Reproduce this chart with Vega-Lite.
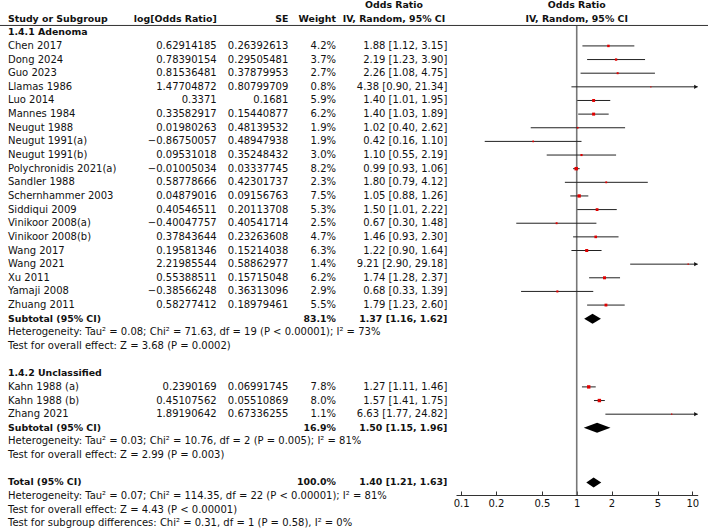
{
  "$schema": "https://vega.github.io/schema/vega-lite/v6.json",
  "width": 708,
  "height": 531,
  "autosize": {"type": "none"},
  "padding": 0,
  "background": "white",
  "config": {
    "view": {"stroke": null},
    "font": "DejaVu Sans",
    "text": {"font": "DejaVu Sans", "fontSize": 10, "color": "#111", "baseline": "middle"}
  },
  "datasets": {
    "headers": [
      {"row": 1, "col": "study", "text": "Study or Subgroup"},
      {"row": 1, "col": "logor", "text": "log[Odds Ratio]"},
      {"row": 1, "col": "se", "text": "SE"},
      {"row": 1, "col": "weight", "text": "Weight"},
      {"row": 0, "col": "ci", "text": "Odds Ratio"},
      {"row": 1, "col": "ci", "text": "IV, Random, 95% CI"},
      {"row": 0, "col": "plot", "text": "Odds Ratio"},
      {"row": 1, "col": "plot", "text": "IV, Random, 95% CI"}
    ],
    "groups": [
      {"row": 2, "text": "1.4.1 Adenoma"},
      {"row": 27, "text": "1.4.2 Unclassified"}
    ],
    "studies": [
      {"row": 3, "study": "Chen 2017", "logor": 0.62914185, "se": 0.26392613, "weight": 0.042, "or": 1.88, "lo": 1.12, "hi": 3.15, "ci": "1.88 [1.12, 3.15]"},
      {"row": 4, "study": "Dong 2024", "logor": 0.78390154, "se": 0.29505481, "weight": 0.037, "or": 2.19, "lo": 1.23, "hi": 3.90, "ci": "2.19 [1.23, 3.90]"},
      {"row": 5, "study": "Guo 2023", "logor": 0.81536481, "se": 0.37879953, "weight": 0.027, "or": 2.26, "lo": 1.08, "hi": 4.75, "ci": "2.26 [1.08, 4.75]"},
      {"row": 6, "study": "Llamas 1986", "logor": 1.47704872, "se": 0.80799709, "weight": 0.008, "or": 4.38, "lo": 0.90, "hi": 21.34, "ci": "4.38 [0.90, 21.34]"},
      {"row": 7, "study": "Luo 2014", "logor": 0.3371, "se": 0.1681, "weight": 0.059, "or": 1.40, "lo": 1.01, "hi": 1.95, "ci": "1.40 [1.01, 1.95]"},
      {"row": 8, "study": "Mannes 1984", "logor": 0.33582917, "se": 0.15440877, "weight": 0.062, "or": 1.40, "lo": 1.03, "hi": 1.89, "ci": "1.40 [1.03, 1.89]"},
      {"row": 9, "study": "Neugut 1988", "logor": 0.01980263, "se": 0.48139532, "weight": 0.019, "or": 1.02, "lo": 0.40, "hi": 2.62, "ci": "1.02 [0.40, 2.62]"},
      {"row": 10, "study": "Neugut 1991(a)", "logor": -0.86750057, "se": 0.48947938, "weight": 0.019, "or": 0.42, "lo": 0.16, "hi": 1.10, "ci": "0.42 [0.16, 1.10]"},
      {"row": 11, "study": "Neugut 1991(b)", "logor": 0.09531018, "se": 0.35248432, "weight": 0.030, "or": 1.10, "lo": 0.55, "hi": 2.19, "ci": "1.10 [0.55, 2.19]"},
      {"row": 12, "study": "Polychronidis 2021(a)", "logor": -0.01005034, "se": 0.03337745, "weight": 0.082, "or": 0.99, "lo": 0.93, "hi": 1.06, "ci": "0.99 [0.93, 1.06]"},
      {"row": 13, "study": "Sandler 1988", "logor": 0.58778666, "se": 0.42301737, "weight": 0.023, "or": 1.80, "lo": 0.79, "hi": 4.12, "ci": "1.80 [0.79, 4.12]"},
      {"row": 14, "study": "Schernhammer 2003", "logor": 0.04879016, "se": 0.09156763, "weight": 0.075, "or": 1.05, "lo": 0.88, "hi": 1.26, "ci": "1.05 [0.88, 1.26]"},
      {"row": 15, "study": "Siddiqui 2009", "logor": 0.40546511, "se": 0.20113708, "weight": 0.053, "or": 1.50, "lo": 1.01, "hi": 2.22, "ci": "1.50 [1.01, 2.22]"},
      {"row": 16, "study": "Vinikoor 2008(a)", "logor": -0.40047757, "se": 0.40541714, "weight": 0.025, "or": 0.67, "lo": 0.30, "hi": 1.48, "ci": "0.67 [0.30, 1.48]"},
      {"row": 17, "study": "Vinikoor 2008(b)", "logor": 0.37843644, "se": 0.23263608, "weight": 0.047, "or": 1.46, "lo": 0.93, "hi": 2.30, "ci": "1.46 [0.93, 2.30]"},
      {"row": 18, "study": "Wang 2017", "logor": 0.19581346, "se": 0.15214038, "weight": 0.063, "or": 1.22, "lo": 0.90, "hi": 1.64, "ci": "1.22 [0.90, 1.64]"},
      {"row": 19, "study": "Wang 2021", "logor": 2.21985544, "se": 0.58862977, "weight": 0.014, "or": 9.21, "lo": 2.90, "hi": 29.18, "ci": "9.21 [2.90, 29.18]"},
      {"row": 20, "study": "Xu 2011", "logor": 0.55388511, "se": 0.15715048, "weight": 0.062, "or": 1.74, "lo": 1.28, "hi": 2.37, "ci": "1.74 [1.28, 2.37]"},
      {"row": 21, "study": "Yamaji 2008", "logor": -0.38566248, "se": 0.36313096, "weight": 0.029, "or": 0.68, "lo": 0.33, "hi": 1.39, "ci": "0.68 [0.33, 1.39]"},
      {"row": 22, "study": "Zhuang 2011", "logor": 0.58277412, "se": 0.18979461, "weight": 0.055, "or": 1.79, "lo": 1.23, "hi": 2.60, "ci": "1.79 [1.23, 2.60]"},
      {"row": 28, "study": "Kahn 1988 (a)", "logor": 0.2390169, "se": 0.06991745, "weight": 0.078, "or": 1.27, "lo": 1.11, "hi": 1.46, "ci": "1.27 [1.11, 1.46]"},
      {"row": 29, "study": "Kahn 1988 (b)", "logor": 0.45107562, "se": 0.05510869, "weight": 0.080, "or": 1.57, "lo": 1.41, "hi": 1.75, "ci": "1.57 [1.41, 1.75]"},
      {"row": 30, "study": "Zhang 2021", "logor": 1.89190642, "se": 0.67336255, "weight": 0.011, "or": 6.63, "lo": 1.77, "hi": 24.82, "ci": "6.63 [1.77, 24.82]"}
    ],
    "summaries": [
      {"row": 23, "label": "Subtotal (95% CI)", "group": "1.4.1 Adenoma", "weight": 0.831, "or": 1.37, "lo": 1.16, "hi": 1.62, "ci": "1.37 [1.16, 1.62]"},
      {"row": 31, "label": "Subtotal (95% CI)", "group": "1.4.2 Unclassified", "weight": 0.169, "or": 1.50, "lo": 1.15, "hi": 1.96, "ci": "1.50 [1.15, 1.96]"},
      {"row": 35, "label": "Total (95% CI)", "group": "Total", "weight": 1.0, "or": 1.40, "lo": 1.21, "hi": 1.63, "ci": "1.40 [1.21, 1.63]"}
    ],
    "notes": [
      {"row": 24, "text": "Heterogeneity: Tau² = 0.08; Chi² = 71.63, df = 19 (P < 0.00001); I² = 73%"},
      {"row": 25, "text": "Test for overall effect: Z = 3.68 (P = 0.0002)"},
      {"row": 32, "text": "Heterogeneity: Tau² = 0.03; Chi² = 10.76, df = 2 (P = 0.005); I² = 81%"},
      {"row": 33, "text": "Test for overall effect: Z = 2.99 (P = 0.003)"},
      {"row": 36, "text": "Heterogeneity: Tau² = 0.07; Chi² = 114.35, df = 22 (P < 0.00001); I² = 81%"},
      {"row": 37, "text": "Test for overall effect: Z = 4.43 (P < 0.00001)"},
      {"row": 38, "text": "Test for subgroup differences: Chi² = 0.31, df = 1 (P = 0.58), I² = 0%"}
    ]
  },
  "resolve": {"scale": {"x": "independent"}},
  "layer": [
    {
      "layer": [
        {
          "data": {"name": "headers"},
          "transform": [{"filter": "datum.col == 'study'"}],
          "mark": {"type": "text", "align": "left", "fontWeight": "bold", "fontSize": 9.4},
          "encoding": {
            "x": {"datum": 8, "type": "quantitative", "scale": {"domain": [0, 708], "range": [0, 708], "nice": false, "zero": false}, "axis": null},
            "y": {"field": "row", "type": "quantitative", "scale": {"domain": [0, 38], "range": [5, 523.3], "nice": false, "zero": false}, "axis": null},
            "text": {"field": "text"}
          }
        },
        {
          "data": {"name": "headers"},
          "transform": [{"filter": "datum.col == 'logor'"}],
          "mark": {"type": "text", "align": "right", "fontWeight": "bold", "fontSize": 9.4},
          "encoding": {
            "x": {"datum": 216.7, "type": "quantitative", "scale": {"domain": [0, 708], "range": [0, 708], "nice": false, "zero": false}, "axis": null},
            "y": {"field": "row", "type": "quantitative", "scale": {"domain": [0, 38], "range": [5, 523.3], "nice": false, "zero": false}, "axis": null},
            "text": {"field": "text"}
          }
        },
        {
          "data": {"name": "headers"},
          "transform": [{"filter": "datum.col == 'se'"}],
          "mark": {"type": "text", "align": "right", "fontWeight": "bold", "fontSize": 9.4},
          "encoding": {
            "x": {"datum": 288.3, "type": "quantitative", "scale": {"domain": [0, 708], "range": [0, 708], "nice": false, "zero": false}, "axis": null},
            "y": {"field": "row", "type": "quantitative", "scale": {"domain": [0, 38], "range": [5, 523.3], "nice": false, "zero": false}, "axis": null},
            "text": {"field": "text"}
          }
        },
        {
          "data": {"name": "headers"},
          "transform": [{"filter": "datum.col == 'weight'"}],
          "mark": {"type": "text", "align": "right", "fontWeight": "bold", "fontSize": 9.4},
          "encoding": {
            "x": {"datum": 336, "type": "quantitative", "scale": {"domain": [0, 708], "range": [0, 708], "nice": false, "zero": false}, "axis": null},
            "y": {"field": "row", "type": "quantitative", "scale": {"domain": [0, 38], "range": [5, 523.3], "nice": false, "zero": false}, "axis": null},
            "text": {"field": "text"}
          }
        },
        {
          "data": {"name": "headers"},
          "transform": [{"filter": "datum.col == 'ci'"}],
          "mark": {"type": "text", "align": "center", "fontWeight": "bold", "fontSize": 9.4},
          "encoding": {
            "x": {"datum": 394, "type": "quantitative", "scale": {"domain": [0, 708], "range": [0, 708], "nice": false, "zero": false}, "axis": null},
            "y": {"field": "row", "type": "quantitative", "scale": {"domain": [0, 38], "range": [5, 523.3], "nice": false, "zero": false}, "axis": null},
            "text": {"field": "text"}
          }
        },
        {
          "data": {"name": "groups"},
          "mark": {"type": "text", "align": "left", "fontWeight": "bold", "fontSize": 9.4},
          "encoding": {
            "x": {"datum": 8, "type": "quantitative", "scale": {"domain": [0, 708], "range": [0, 708], "nice": false, "zero": false}, "axis": null},
            "y": {"field": "row", "type": "quantitative", "scale": {"domain": [0, 38], "range": [5, 523.3], "nice": false, "zero": false}, "axis": null},
            "text": {"field": "text"}
          }
        },
        {
          "data": {"name": "studies"},
          "mark": {"type": "text", "align": "left"},
          "encoding": {
            "x": {"datum": 8, "type": "quantitative", "scale": {"domain": [0, 708], "range": [0, 708], "nice": false, "zero": false}, "axis": null},
            "y": {"field": "row", "type": "quantitative", "scale": {"domain": [0, 38], "range": [5, 523.3], "nice": false, "zero": false}, "axis": null},
            "text": {"field": "study"}
          }
        },
        {
          "data": {"name": "studies"},
          "mark": {"type": "text", "align": "right"},
          "encoding": {
            "x": {"datum": 216.7, "type": "quantitative", "scale": {"domain": [0, 708], "range": [0, 708], "nice": false, "zero": false}, "axis": null},
            "y": {"field": "row", "type": "quantitative", "scale": {"domain": [0, 38], "range": [5, 523.3], "nice": false, "zero": false}, "axis": null},
            "text": {"field": "logor", "type": "quantitative"}
          }
        },
        {
          "data": {"name": "studies"},
          "mark": {"type": "text", "align": "right"},
          "encoding": {
            "x": {"datum": 288.3, "type": "quantitative", "scale": {"domain": [0, 708], "range": [0, 708], "nice": false, "zero": false}, "axis": null},
            "y": {"field": "row", "type": "quantitative", "scale": {"domain": [0, 38], "range": [5, 523.3], "nice": false, "zero": false}, "axis": null},
            "text": {"field": "se", "type": "quantitative"}
          }
        },
        {
          "data": {"name": "studies"},
          "mark": {"type": "text", "align": "right"},
          "encoding": {
            "x": {"datum": 336, "type": "quantitative", "scale": {"domain": [0, 708], "range": [0, 708], "nice": false, "zero": false}, "axis": null},
            "y": {"field": "row", "type": "quantitative", "scale": {"domain": [0, 38], "range": [5, 523.3], "nice": false, "zero": false}, "axis": null},
            "text": {"field": "weight", "type": "quantitative", "format": ".1%"}
          }
        },
        {
          "data": {"name": "studies"},
          "mark": {"type": "text", "align": "right"},
          "encoding": {
            "x": {"datum": 447.3, "type": "quantitative", "scale": {"domain": [0, 708], "range": [0, 708], "nice": false, "zero": false}, "axis": null},
            "y": {"field": "row", "type": "quantitative", "scale": {"domain": [0, 38], "range": [5, 523.3], "nice": false, "zero": false}, "axis": null},
            "text": {"field": "ci"}
          }
        },
        {
          "data": {"name": "summaries"},
          "mark": {"type": "text", "align": "left", "fontWeight": "bold", "fontSize": 9.4},
          "encoding": {
            "x": {"datum": 8, "type": "quantitative", "scale": {"domain": [0, 708], "range": [0, 708], "nice": false, "zero": false}, "axis": null},
            "y": {"field": "row", "type": "quantitative", "scale": {"domain": [0, 38], "range": [5, 523.3], "nice": false, "zero": false}, "axis": null},
            "text": {"field": "label"}
          }
        },
        {
          "data": {"name": "summaries"},
          "mark": {"type": "text", "align": "right", "fontWeight": "bold", "fontSize": 9.4},
          "encoding": {
            "x": {"datum": 336, "type": "quantitative", "scale": {"domain": [0, 708], "range": [0, 708], "nice": false, "zero": false}, "axis": null},
            "y": {"field": "row", "type": "quantitative", "scale": {"domain": [0, 38], "range": [5, 523.3], "nice": false, "zero": false}, "axis": null},
            "text": {"field": "weight", "type": "quantitative", "format": ".1%"}
          }
        },
        {
          "data": {"name": "summaries"},
          "mark": {"type": "text", "align": "right", "fontWeight": "bold", "fontSize": 9.4},
          "encoding": {
            "x": {"datum": 447.3, "type": "quantitative", "scale": {"domain": [0, 708], "range": [0, 708], "nice": false, "zero": false}, "axis": null},
            "y": {"field": "row", "type": "quantitative", "scale": {"domain": [0, 38], "range": [5, 523.3], "nice": false, "zero": false}, "axis": null},
            "text": {"field": "ci"}
          }
        },
        {
          "data": {"name": "notes"},
          "mark": {"type": "text", "align": "left"},
          "encoding": {
            "x": {"datum": 8, "type": "quantitative", "scale": {"domain": [0, 708], "range": [0, 708], "nice": false, "zero": false}, "axis": null},
            "y": {"field": "row", "type": "quantitative", "scale": {"domain": [0, 38], "range": [5, 523.3], "nice": false, "zero": false}, "axis": null},
            "text": {"field": "text"}
          }
        }
      ]
    },
    {
      "layer": [
        {
          "data": {"values": [{}]},
          "mark": {"type": "rule", "color": "#777", "strokeWidth": 1.6},
          "encoding": {
            "x": {"datum": 1, "type": "quantitative", "scale": {"type": "log", "domain": [0.0903, 11.13], "range": [456, 697.7], "nice": false, "clamp": true},
              "axis": {"orient": "bottom", "offset": -36, "values": [0.1, 0.2, 0.5, 1, 2, 5, 10], "format": "~g", "title": null, "grid": false,
                "domainColor": "#333", "domainWidth": 1, "tickColor": "#333", "tickWidth": 1, "tickSize": -4, "labelPadding": 7,
                "labelFont": "DejaVu Sans", "labelFontSize": 10, "labelColor": "#111", "labelFlush": false, "labelOverlap": false, "labelBound": false}},
            "y": {"datum": 1.5, "type": "quantitative", "scale": {"domain": [0, 38], "range": [5, 523.3], "nice": false, "zero": false}, "axis": null},
            "y2": {"datum": 35.93}
          }
        },
        {
          "data": {"values": [{}]},
          "mark": {"type": "rule", "color": "#333", "strokeWidth": 1},
          "encoding": {
            "y": {"datum": 1.5, "type": "quantitative", "scale": {"domain": [0, 38], "range": [5, 523.3], "nice": false, "zero": false}, "axis": null}
          }
        },
        {
          "data": {"name": "headers"},
          "transform": [{"filter": "datum.col == 'plot'"}],
          "mark": {"type": "text", "align": "center", "fontWeight": "bold", "fontSize": 9.4},
          "encoding": {
            "x": {"datum": 1, "type": "quantitative"},
            "y": {"field": "row", "type": "quantitative", "scale": {"domain": [0, 38], "range": [5, 523.3], "nice": false, "zero": false}, "axis": null},
            "text": {"field": "text"}
          }
        },
        {
          "data": {"name": "studies"},
          "mark": {"type": "rule", "color": "#222", "strokeWidth": 1},
          "encoding": {
            "x": {"field": "lo", "type": "quantitative"},
            "x2": {"field": "hi"},
            "y": {"field": "row", "type": "quantitative", "scale": {"domain": [0, 38], "range": [5, 523.3], "nice": false, "zero": false}, "axis": null}
          }
        },
        {
          "data": {"name": "studies"},
          "transform": [{"filter": "datum.hi > 11.13"}],
          "mark": {"type": "point", "shape": "M0,0L-1,-0.6L-1,0.6Z", "filled": true, "color": "#111", "opacity": 1, "size": 49},
          "encoding": {
            "x": {"field": "hi", "type": "quantitative"},
            "y": {"field": "row", "type": "quantitative", "scale": {"domain": [0, 38], "range": [5, 523.3], "nice": false, "zero": false}, "axis": null}
          }
        },
        {
          "data": {"name": "studies"},
          "mark": {"type": "point", "shape": "square", "filled": true, "color": "#e00000", "opacity": 1},
          "encoding": {
            "x": {"field": "or", "type": "quantitative"},
            "y": {"field": "row", "type": "quantitative", "scale": {"domain": [0, 38], "range": [5, 523.3], "nice": false, "zero": false}, "axis": null},
            "size": {"field": "weight", "type": "quantitative", "scale": {"domain": [0, 0.082], "range": [0, 12]}, "legend": null}
          }
        },
        {
          "data": {"name": "summaries"},
          "mark": {"type": "point", "filled": true, "color": "#000", "opacity": 1, "size": 400},
          "encoding": {
            "x": {"field": "or", "type": "quantitative"},
            "y": {"field": "row", "type": "quantitative", "scale": {"domain": [0, 38], "range": [5, 523.3], "nice": false, "zero": false}, "axis": null},
            "shape": {"field": "group", "type": "nominal", "legend": null,
              "scale": {"domain": ["1.4.1 Adenoma", "1.4.2 Unclassified", "Total"],
                "range": ["M-0.835,0L0,-0.5L0.842,0L0,0.5Z", "M-1.334,0L0,-0.5L1.343,0L0,0.5Z", "M-0.732,0L0,-0.5L0.764,0L0,0.5Z"]}}
          }
        }
      ]
    }
  ]
}
